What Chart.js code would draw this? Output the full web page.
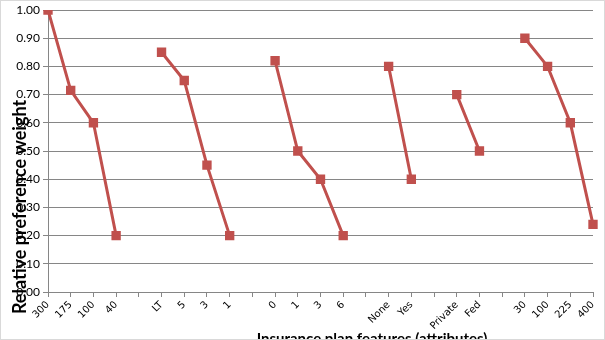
<!DOCTYPE html>
<html>
<head>
<meta charset="utf-8">
<script src="https://cdn.jsdelivr.net/npm/chart.js@4/dist/chart.umd.min.js"></script>
<style>
  html, body { margin: 0; padding: 0; background: #fff; }
  #wrap { width: 605px; height: 340px; position: relative; }
</style>
</head>
<body>
<div id="wrap"><canvas id="myChart"></canvas></div>
<script>
// attribute levels, blank entries separate the groups
const categories = ['300', '175', '100', '40', '', 'LT', '5', '3', '1', '', '0', '1', '3', '6', '', 'None', 'Yes', '', 'Private', 'Fed', '', '30', '100', '225', '400'];
const weights = [1.00, 0.715, 0.60, 0.20, null, 0.85, 0.75, 0.45, 0.20, null, 0.82, 0.50, 0.40, 0.20, null, 0.80, 0.40, null, 0.70, 0.50, null, 0.90, 0.80, 0.60, 0.24];
const yTitle = 'Relative preference weight';
const xTitle = 'Insurance plan features (attributes)';

const titles = {
  id: 'titles',
  afterDraw(chart) {
    const c = chart.ctx;
    c.save();
    c.fillStyle = '#000';
    c.font = 'bold 18px Lato';
    c.textAlign = 'center';
    c.textBaseline = 'alphabetic';
    c.translate(26, 207);
    c.rotate(-Math.PI / 2);
    c.fillText(yTitle, 0, 0);
    c.restore();

    c.save();
    c.fillStyle = '#000';
    c.font = 'bold 15px Lato';
    c.textAlign = 'center';
    c.fillText(xTitle, 372, 344);
    c.restore();

    // light frame around the chart
    c.save();
    c.strokeStyle = '#d9d9d9';
    c.lineWidth = 1;
    c.strokeRect(0.5, 0.5, 604, 339);
    c.restore();
  }
};

new Chart(document.getElementById('myChart'), {
  type: 'line',
  data: {
    labels: categories,
    datasets: [{
      data: weights,
      borderColor: '#C0504D',
      backgroundColor: '#C0504D',
      borderWidth: 3,
      pointStyle: 'rect',
      pointRadius: 4.5,
      pointHoverRadius: 4.5,
      spanGaps: false,
      tension: 0
    }]
  },
  options: {
    responsive: true,
    maintainAspectRatio: false,
    animation: false,
    layout: { padding: { top: 10, right: 12, left: 0, bottom: 0 } },
    plugins: {
      legend: { display: false },
      tooltip: { enabled: false }
    },
    scales: {
      x: {
        offset: false,
        grid: { drawOnChartArea: false, drawTicks: true, tickLength: 5, color: '#868686' },
        border: { color: '#868686', width: 1 },
        ticks: {
          autoSkip: false,
          minRotation: 45,
          maxRotation: 45,
          color: '#000',
          font: { family: 'DejaVu Sans', size: 10 },
          padding: 2
        },
        afterFit(scale) {
          scale.height = 48;
          scale.paddingLeft = 0;
          scale.paddingRight = 0;
        }
      },
      y: {
        min: 0,
        max: 1,
        grid: { color: '#868686', tickLength: 5 },
        border: { color: '#868686', width: 1 },
        ticks: {
          stepSize: 0.1,
          color: '#000',
          font: { family: 'Lato', size: 12 },
          padding: 3,
          callback: v => v.toFixed(2)
        },
        afterFit(scale) {
          scale.width = 48;
          scale.paddingTop = 0;
          scale.paddingBottom = 0;
        }
      }
    }
  },
  plugins: [titles]
});
</script>
</body>
</html>
